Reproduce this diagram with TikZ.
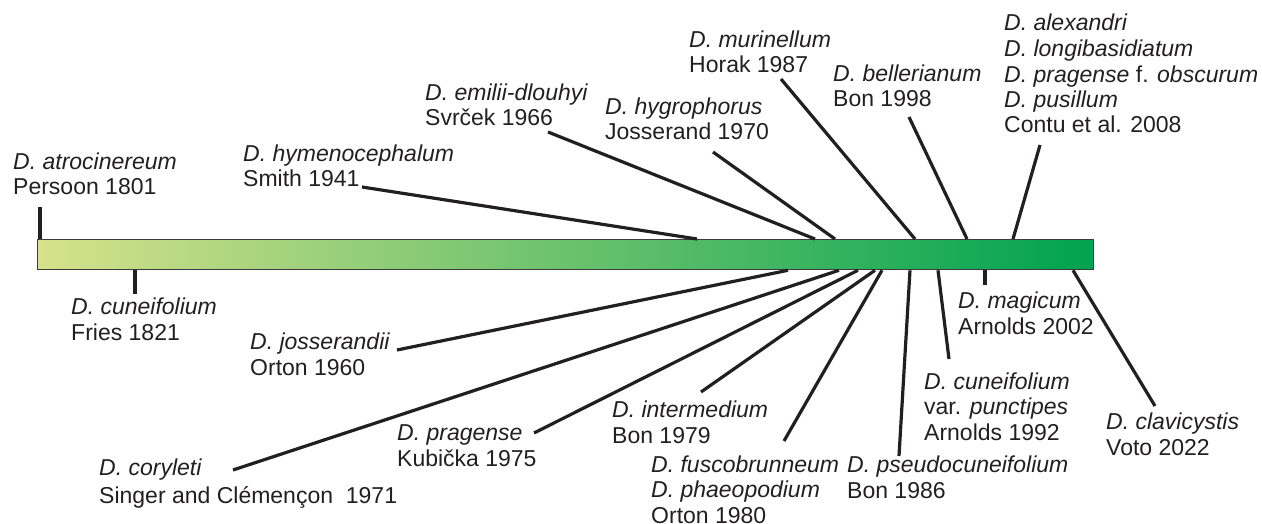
\documentclass[tikz,border=0pt]{standalone}
\usepackage{fontspec}
\setmainfont{Liberation Sans}
\usetikzlibrary{positioning,calc}

\definecolor{inkdark}{RGB}{35,31,32}
\definecolor{barleft}{RGB}{214,225,139}
\definecolor{barmid}{RGB}{112,192,104}
\definecolor{barright}{RGB}{0,163,80}

\begin{document}
\begin{tikzpicture}[
  x=1pt, y=-1pt,
  font=\fontsize{23}{25.5}\selectfont,
  lbl/.style={anchor=base west, inner sep=0pt, align=left, text=inkdark},
  lead/.style={draw=inkdark, line width=3.2pt},
  bar/.style={draw={rgb,255:red,60;green,60;blue,60}, line width=1.3pt, left color=barleft, middle color=barmid, right color=barright, inner sep=0pt}
]
\useasboundingbox (0,0) rectangle (1262,524);

\node[bar, anchor=north west, minimum width=1056pt, minimum height=30pt] (bar) at (37,239) {};

% above the bar (positions are the baseline of the last line)
\node[lbl] (atro) at (13,195) {\textit{D. atrocinereum}\\Persoon 1801};
\node[lbl] (smith) at (243,187) {\textit{D. hymenocephalum}\\Smith 1941};
\node[lbl] (svrcek) at (425,126) {\textit{D. emilii-dlouhyi}\\Svrček 1966};
\node[lbl] (jossA) at (605,140) {\textit{D. hygrophorus}\\Josserand 1970};
\node[lbl] (horak) at (689,73) {\textit{D. murinellum}\\Horak 1987};
\node[lbl] (bonA) at (833,107) {\textit{D. bellerianum}\\Bon 1998};
\node[lbl] (contu) at (1004,133) {\textit{D. alexandri}\\\textit{D. longibasidiatum}\\\textit{D. pragense} f. \textit{obscurum}\\\textit{D. pusillum}\\Contu et al. 2008};

% below the bar
\node[lbl] (fries) at (71,340) {\textit{D. cuneifolium}\\Fries 1821};
\node[lbl] (ortonA) at (250,375) {\textit{D. josserandii}\\Orton 1960};
\node[lbl] (singer) at (99,503) {\textit{D. coryleti}\\[2.5pt]Singer and Clémençon~~1971};
\node[lbl] (kubicka) at (397,466) {\textit{D. pragense}\\Kubička 1975};
\node[lbl] (bonB) at (612,443) {\textit{D. intermedium}\\Bon 1979};
\node[lbl] (ortonB) at (651,523) {\textit{D. fuscobrunneum}\\\textit{D. phaeopodium}\\Orton 1980};
\node[lbl] (bonC) at (847,498) {\textit{D. pseudocuneifolium}\\Bon 1986};
\node[lbl] (arnoldsA) at (924,440) {\textit{D. cuneifolium}\\var. \textit{punctipes}\\Arnolds 1992};
\node[lbl] (arnoldsB) at (958,334) {\textit{D. magicum}\\Arnolds 2002};
\node[lbl] (voto) at (1106,455) {\textit{D. clavicystis}\\Voto 2022};

\coordinate (atro-end) at (40,207);
\coordinate (smith-end) at (362,187);
\coordinate (svrcek-end) at (548,132);
\coordinate (jossA-end) at (713,152);
\coordinate (horak-end) at (781,79);
\coordinate (bonA-end) at (909,117);
\coordinate (contu-end) at (1040,145);
\coordinate (fries-end) at (135,294);
\coordinate (ortonA-end) at (397,350);
\coordinate (singer-end) at (233,470);
\coordinate (kubicka-end) at (534,433);
\coordinate (bonB-end) at (701,392);
\coordinate (ortonB-end) at (784,441);
\coordinate (bonC-end) at (899,456);
\coordinate (arnoldsA-end) at (949,359);
\coordinate (arnoldsB-end) at (985,285);
\coordinate (voto-end) at (1155,406);

\draw[lead] (atro-end) -- (40,0 |- bar.north);
\draw[lead] (smith-end) -- (697,0 |- bar.north);
\draw[lead] (svrcek-end) -- (815,0 |- bar.north);
\draw[lead] (jossA-end) -- (835,0 |- bar.north);
\draw[lead] (horak-end) -- (915,0 |- bar.north);
\draw[lead] (bonA-end) -- (967,0 |- bar.north);
\draw[lead] (contu-end) -- (1013,0 |- bar.north);

\draw[lead] (135,0 |- bar.south) -- (fries-end);
\draw[lead] (788,0 |- bar.south) -- (ortonA-end);
\draw[lead] (839,0 |- bar.south) -- (singer-end);
\draw[lead] (858,0 |- bar.south) -- (kubicka-end);
\draw[lead] (875,0 |- bar.south) -- (bonB-end);
\draw[lead] (882,0 |- bar.south) -- (ortonB-end);
\draw[lead] (910,0 |- bar.south) -- (bonC-end);
\draw[lead] (938,0 |- bar.south) -- (arnoldsA-end);
\draw[lead] (985,0 |- bar.south) -- (arnoldsB-end);
\draw[lead] (1073,0 |- bar.south) -- (voto-end);
\end{tikzpicture}
\end{document}
